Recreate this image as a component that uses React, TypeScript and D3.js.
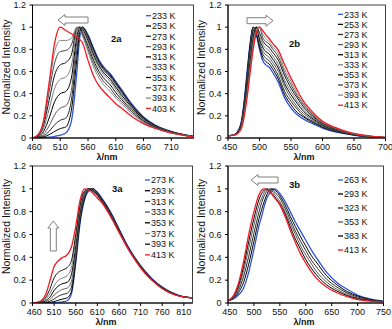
import React from 'react';
import * as d3 from 'd3';

// ---------- Panel 2a ----------
const X2A = [460,470,480,490,500,510,520,530,540,545,550,560,570,580,590,600,610,620,640,660,680,700,720,750];
const L2A = ['233 K','253 K','273 K','293 K','313 K','333 K','353 K','373 K','393 K','403 K'];
const Y2A = [
  [0,0,0.003,0.008,0.015,0.025,0.045,0.15,0.6,0.9,1.0,0.93,0.81,0.7,0.63,0.58,0.51,0.44,0.3,0.19,0.12,0.075,0.045,0.015],
  [0,0.002,0.01,0.03,0.06,0.085,0.1,0.25,0.72,0.95,1.0,0.92,0.8,0.69,0.62,0.57,0.5,0.43,0.29,0.185,0.117,0.073,0.044,0.015],
  [0,0.005,0.02,0.06,0.12,0.16,0.18,0.34,0.8,0.98,1.0,0.91,0.79,0.68,0.61,0.56,0.49,0.42,0.285,0.18,0.114,0.071,0.043,0.014],
  [0,0.008,0.035,0.11,0.21,0.27,0.29,0.43,0.87,1.0,0.99,0.9,0.77,0.67,0.6,0.55,0.48,0.41,0.28,0.176,0.111,0.07,0.042,0.014],
  [0,0.012,0.06,0.18,0.33,0.4,0.42,0.54,0.92,1.0,0.98,0.88,0.75,0.65,0.58,0.53,0.46,0.39,0.27,0.17,0.107,0.068,0.041,0.013],
  [0,0.016,0.09,0.26,0.45,0.53,0.55,0.65,0.96,1.0,0.97,0.86,0.73,0.63,0.56,0.51,0.44,0.37,0.26,0.163,0.103,0.066,0.04,0.013],
  [0,0.02,0.12,0.34,0.57,0.66,0.68,0.75,0.99,1.0,0.95,0.83,0.7,0.6,0.53,0.48,0.41,0.35,0.245,0.155,0.099,0.063,0.038,0.012],
  [0,0.024,0.14,0.42,0.68,0.78,0.79,0.84,1.0,0.98,0.93,0.8,0.67,0.57,0.5,0.45,0.38,0.33,0.23,0.147,0.095,0.06,0.036,0.012],
  [0,0.028,0.15,0.47,0.78,0.88,0.88,0.9,1.0,0.97,0.92,0.78,0.64,0.54,0.47,0.42,0.36,0.31,0.215,0.14,0.091,0.058,0.035,0.011],
  [0,0.03,0.16,0.5,0.86,1.0,0.97,0.94,0.91,0.89,0.86,0.7,0.56,0.47,0.41,0.36,0.31,0.27,0.19,0.13,0.088,0.058,0.035,0.01],
];
const XT2A = [460,510,560,610,660,710];

// ---------- Panel 2b ----------
const X2B = [450,460,470,475,480,485,490,495,500,505,510,515,520,530,540,550,560,570,580,590,600,620,640,660,680,700];
const L2B = ['233 K','253 K','273 K','293 K','313 K','333 K','353 K','373 K','393 K','413 K'];
const Y2B = [
  [0.02,0.03,0.12,0.3,0.58,0.85,1.0,0.93,0.8,0.7,0.66,0.64,0.6,0.5,0.36,0.27,0.21,0.17,0.14,0.115,0.09,0.055,0.035,0.017,0.007,0.002],
  [0.02,0.03,0.115,0.29,0.56,0.84,1.0,0.94,0.82,0.73,0.69,0.67,0.63,0.53,0.39,0.3,0.23,0.19,0.153,0.125,0.097,0.06,0.037,0.018,0.008,0.0025],
  [0.02,0.029,0.11,0.27,0.53,0.82,1.0,0.95,0.84,0.76,0.72,0.7,0.66,0.56,0.42,0.33,0.26,0.2,0.165,0.134,0.104,0.064,0.039,0.02,0.009,0.003],
  [0.02,0.028,0.105,0.26,0.5,0.78,0.98,1.0,0.87,0.79,0.75,0.73,0.69,0.6,0.46,0.36,0.28,0.22,0.18,0.144,0.11,0.068,0.042,0.021,0.01,0.003],
  [0.02,0.028,0.1,0.245,0.48,0.75,0.96,1.0,0.89,0.82,0.78,0.76,0.72,0.63,0.49,0.39,0.31,0.24,0.193,0.153,0.117,0.073,0.044,0.023,0.011,0.0035],
  [0.02,0.027,0.095,0.23,0.45,0.72,0.93,1.0,0.92,0.85,0.81,0.79,0.75,0.66,0.52,0.42,0.33,0.26,0.207,0.162,0.124,0.078,0.046,0.024,0.012,0.004],
  [0.02,0.027,0.09,0.215,0.43,0.68,0.9,1.0,0.95,0.88,0.84,0.82,0.78,0.7,0.56,0.45,0.36,0.28,0.22,0.171,0.13,0.082,0.049,0.026,0.013,0.0045],
  [0.02,0.026,0.085,0.2,0.4,0.65,0.87,0.99,1.0,0.91,0.87,0.85,0.81,0.73,0.59,0.48,0.38,0.3,0.233,0.18,0.137,0.086,0.051,0.027,0.013,0.005],
  [0.02,0.026,0.078,0.185,0.375,0.61,0.83,0.97,1.0,0.94,0.9,0.87,0.83,0.76,0.62,0.51,0.4,0.31,0.246,0.19,0.143,0.09,0.053,0.028,0.014,0.0055],
  [0.02,0.025,0.07,0.17,0.35,0.58,0.8,0.95,1.0,0.97,0.93,0.9,0.86,0.79,0.66,0.54,0.43,0.33,0.26,0.2,0.15,0.095,0.055,0.03,0.015,0.006],
];
const XT2B = [450,500,550,600,650,700];

// ---------- Panel 3a ----------
const X3A = [460,470,480,490,500,510,520,530,540,550,560,570,580,590,600,610,620,640,660,680,700,720,740,760,780,800,830];
const L3A = ['273 K','293 K','313 K','333 K','353 K','373 K','393 K','413 K'];
const Y3A = [
  [0,0,0,0,0,0.003,0.006,0.01,0.02,0.08,0.35,0.7,0.9,0.98,1.0,0.97,0.92,0.8,0.65,0.5,0.38,0.28,0.2,0.14,0.095,0.065,0.045],
  [0,0,0,0.002,0.005,0.012,0.025,0.035,0.045,0.1,0.37,0.72,0.91,0.99,1.0,0.965,0.915,0.795,0.645,0.497,0.377,0.277,0.198,0.138,0.094,0.064,0.045],
  [0,0,0.002,0.006,0.015,0.035,0.06,0.075,0.085,0.14,0.4,0.74,0.93,0.995,1.0,0.96,0.91,0.79,0.64,0.494,0.374,0.275,0.196,0.136,0.093,0.063,0.045],
  [0,0,0.004,0.012,0.03,0.07,0.1,0.12,0.13,0.19,0.44,0.77,0.94,1.0,0.99,0.955,0.905,0.785,0.636,0.491,0.371,0.272,0.194,0.134,0.091,0.062,0.045],
  [0,0.002,0.007,0.02,0.05,0.11,0.15,0.17,0.18,0.25,0.5,0.8,0.96,1.0,0.985,0.95,0.9,0.78,0.632,0.488,0.368,0.269,0.192,0.132,0.09,0.062,0.045],
  [0,0.003,0.01,0.03,0.08,0.15,0.2,0.22,0.24,0.31,0.55,0.83,0.97,1.0,0.98,0.945,0.895,0.774,0.628,0.485,0.366,0.267,0.19,0.13,0.089,0.061,0.045],
  [0,0.004,0.014,0.045,0.12,0.22,0.27,0.29,0.31,0.37,0.6,0.86,0.98,1.0,0.975,0.94,0.89,0.768,0.624,0.482,0.363,0.264,0.188,0.128,0.088,0.06,0.045],
  [0,0.005,0.02,0.07,0.19,0.32,0.37,0.4,0.42,0.49,0.67,0.9,1.0,0.99,0.96,0.92,0.88,0.76,0.62,0.48,0.36,0.26,0.185,0.125,0.085,0.06,0.045],
];
const XT3A = [460,510,560,610,660,710,760,810];

// ---------- Panel 3b ----------
const X3B = [450,460,470,480,490,500,510,515,520,525,530,535,540,550,560,570,580,590,600,610,620,640,660,680,700,720,750];
const L3B = ['263 K','293 K','323 K','353 K','383 K','413 K'];
const Y3B = [
  [0.02,0.035,0.07,0.13,0.27,0.47,0.68,0.76,0.85,0.92,0.96,0.99,1.0,0.96,0.89,0.8,0.71,0.63,0.55,0.47,0.4,0.27,0.18,0.12,0.07,0.04,0.015],
  [0.02,0.04,0.09,0.18,0.34,0.54,0.74,0.82,0.89,0.95,0.99,1.0,0.99,0.94,0.86,0.76,0.67,0.58,0.5,0.42,0.36,0.24,0.16,0.1,0.062,0.035,0.014],
  [0.02,0.045,0.11,0.23,0.41,0.61,0.8,0.88,0.94,0.98,1.0,0.99,0.97,0.92,0.83,0.73,0.63,0.54,0.46,0.38,0.32,0.21,0.14,0.088,0.053,0.03,0.012],
  [0.02,0.05,0.13,0.28,0.48,0.68,0.86,0.92,0.97,1.0,0.99,0.98,0.95,0.89,0.8,0.7,0.6,0.5,0.42,0.35,0.28,0.185,0.12,0.075,0.045,0.026,0.011],
  [0.02,0.055,0.15,0.32,0.54,0.74,0.91,0.96,0.99,1.0,0.98,0.96,0.93,0.87,0.78,0.67,0.56,0.47,0.38,0.31,0.25,0.16,0.105,0.065,0.038,0.022,0.009],
  [0.02,0.06,0.17,0.36,0.6,0.8,0.95,0.99,1.0,0.99,0.97,0.95,0.92,0.86,0.76,0.64,0.53,0.43,0.35,0.28,0.22,0.14,0.09,0.055,0.03,0.018,0.008],
];
const XT3B = [450,500,550,600,650,700,750];

const YT = [0, 0.2, 0.4, 0.6, 0.8, 1, 1.2];

const BLUE = '#2f55d4';
const RED = '#ee1c25';
const GRAYS = ['#000000', '#2a2a2a', '#5a5a5a', '#000000', '#7a7a7a', '#111111', '#444444', '#888888'];
const FONT = 'Liberation Sans, Arial, sans-serif';

type ArrowSpec = { dir: 'left' | 'right' | 'up'; a: number; b: number; c: number };

function arrowPoints(s: ArrowSpec): string {
  const hh = 5.5, bh = 3, hl = 7;
  let pts: number[][] = [];
  if (s.dir === 'left') {
    const tip = s.a, tail = s.b, y = s.c;
    pts = [[tip, y], [tip + hl, y - hh], [tip + hl, y - bh], [tail, y - bh], [tail, y + bh], [tip + hl, y + bh], [tip + hl, y + hh]];
  } else if (s.dir === 'right') {
    const tip = s.a, tail = s.b, y = s.c;
    pts = [[tip, y], [tip - hl, y - hh], [tip - hl, y - bh], [tail, y - bh], [tail, y + bh], [tip - hl, y + bh], [tip - hl, y + hh]];
  } else {
    const tip = s.a, tail = s.b, x = s.c;
    pts = [[x, tip], [x - hh, tip + hl], [x - bh, tip + hl], [x - bh, tail], [x + bh, tail], [x + bh, tip + hl], [x + hh, tip + hl]];
  }
  return pts.map(p => p.join(',')).join(' ');
}

type PanelProps = {
  id: string;
  l: number; t: number; r: number; b: number;
  xDomain: [number, number];
  xTicks: number[];
  xs: number[];
  ys: number[][];
  labels: string[];
  legend: { x: number; y: number; dy: number };
  tag: { text: string; x: number; y: number };
  arrow: ArrowSpec;
  xTitleX: number;
  yTitle: { x: number; y: number };
};

function Panel(p: PanelProps) {
  const x = d3.scaleLinear().domain(p.xDomain).range([p.l, p.r]);
  const y = d3.scaleLinear().domain([0, 1.2]).range([p.b, p.t]);
  const line = d3.line<[number, number]>().x(d => x(d[0])).y(d => y(d[1])).curve(d3.curveMonotoneX);
  const n = p.ys.length;
  const colorOf = (i: number) => (i === 0 ? BLUE : i === n - 1 ? RED : GRAYS[(i - 1) % GRAYS.length]);
  const order = [0, ...d3.range(1, n - 1), n - 1];
  return (
    <g>
      <defs>
        <clipPath id={'clip' + p.id}>
          <rect x={p.l} y={p.t} width={p.r - p.l} height={p.b - p.t} />
        </clipPath>
      </defs>
      <rect x={p.l} y={p.t} width={p.r - p.l} height={p.b - p.t} fill="#fff" stroke="#404040" strokeWidth={1} />
      <g clipPath={`url(#clip${p.id})`}>
        {order.map(i => (
          <path key={i} d={line(p.xs.map((xv, k) => [xv, p.ys[i][k]] as [number, number])) || ''}
            fill="none" stroke={colorOf(i)} strokeWidth={i === 0 || i === n - 1 ? 1.3 : 1} />
        ))}
      </g>
      <line x1={p.l} x2={p.l} y1={p.t} y2={p.b} stroke="#000" />
      <line x1={p.l} x2={p.r} y1={p.b} y2={p.b} stroke="#000" />
      {YT.map(v => (
        <g key={'y' + v}>
          <line x1={p.l - 3} x2={p.l} y1={y(v)} y2={y(v)} stroke="#000" />
          <text x={p.l - 6.5} y={y(v) + 3.2} textAnchor="end" fontSize={9} fontFamily={FONT} fill="#111">{String(v)}</text>
        </g>
      ))}
      {p.xTicks.map((v, i) => (
        <g key={'x' + v}>
          <line x1={x(v)} x2={x(v)} y1={p.b} y2={p.b + 3} stroke="#000" />
          <text x={x(v) + (i === 0 ? 1.8 : 0)} y={p.b + 11.5} textAnchor="middle" fontSize={9} fontFamily={FONT} fill="#111">{String(v)}</text>
        </g>
      ))}
      <text x={p.xTitleX} y={p.b + 21.8} textAnchor="middle" fontSize={9} fontWeight="bold" fontFamily={FONT} fill="#111">λ/nm</text>
      <text transform={`translate(${p.yTitle.x + 3.5},${p.yTitle.y}) rotate(-90)`} textAnchor="middle" fontSize={10.5} fontFamily={FONT} fill="#111">Normalized Intensity</text>
      {p.labels.map((lab, i) => (
        <g key={lab}>
          <line x1={p.legend.x} x2={p.legend.x + 5} y1={p.legend.y + i * p.legend.dy} y2={p.legend.y + i * p.legend.dy}
            stroke={colorOf(i)} strokeWidth={1.3} />
          <text x={p.legend.x + 6} y={p.legend.y + i * p.legend.dy + 3.2} fontSize={9} fontFamily={FONT} fill="#111">{lab}</text>
        </g>
      ))}
      <text x={p.tag.x} y={p.tag.y} fontSize={9.5} fontWeight="bold" fontFamily={FONT} fill="#111">{p.tag.text}</text>
      <polygon points={arrowPoints(p.arrow)} fill="#fff" stroke="#808080" strokeWidth={1} />
    </g>
  );
}

export default function App() {
  return (
    <svg width={392} height={329} style={{ position: 'absolute', left: 0, top: 0, background: '#fff' }}>
      <rect x={0} y={0} width={392} height={329} fill="#fff" />
      <Panel id="a" l={32.5} t={5} r={193.5} b={138} xDomain={[460, 750]} xTicks={XT2A} xs={X2A} ys={Y2A} labels={L2A}
        legend={{ x: 146, y: 15.7, dy: 10.3 }} tag={{ text: '2a', x: 111, y: 42 }}
        arrow={{ dir: 'left', a: 58, b: 88, c: 20 }} xTitleX={107} yTitle={{ x: 6, y: 67 }} />
      <Panel id="b" l={228} t={5} r={385.5} b={138} xDomain={[450, 700]} xTicks={XT2B} xs={X2B} ys={Y2B} labels={L2B}
        legend={{ x: 338, y: 14.3, dy: 10.1 }} tag={{ text: '2b', x: 289, y: 47 }}
        arrow={{ dir: 'right', a: 273, b: 247, c: 20.7 }} xTitleX={304} yTitle={{ x: 201, y: 67.5 }} />
      <Panel id="c" l={32.5} t={166} r={192.5} b={303} xDomain={[460, 830]} xTicks={XT3A} xs={X3A} ys={Y3A} labels={L3A}
        legend={{ x: 145, y: 180, dy: 10.7 }} tag={{ text: '3a', x: 112, y: 192 }}
        arrow={{ dir: 'up', a: 221, b: 251, c: 53.3 }} xTitleX={106} yTitle={{ x: 6, y: 226.5 }} />
      <Panel id="d" l={228} t={166} r={383.5} b={303} xDomain={[450, 750]} xTicks={XT3B} xs={X3B} ys={Y3B} labels={L3B}
        legend={{ x: 338, y: 180, dy: 14 }} tag={{ text: '3b', x: 289, y: 188 }}
        arrow={{ dir: 'left', a: 251, b: 278, c: 180 }} xTitleX={304} yTitle={{ x: 201, y: 226.5 }} />
    </svg>
  );
}
